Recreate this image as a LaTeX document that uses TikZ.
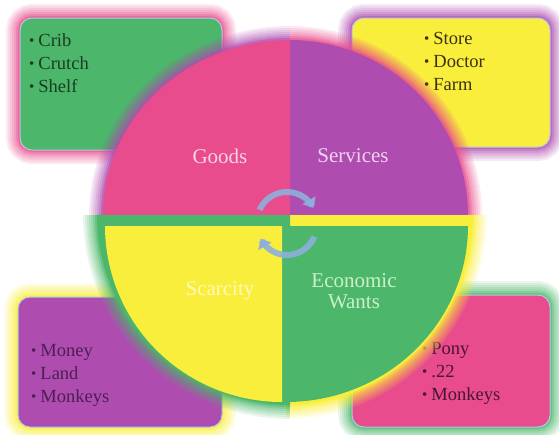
\documentclass[tikz,border=0pt]{standalone}
\usepackage{fontspec}
\setmainfont{Liberation Serif}
\usetikzlibrary{arrows.meta}
\definecolor{cgreen}{HTML}{4CB76A}
\definecolor{cpink}{HTML}{E84C8C}
\definecolor{cpurple}{HTML}{AE4CB0}
\definecolor{cyellow}{HTML}{FAEE3C}
\definecolor{cblue}{HTML}{8CB0DC}
\definecolor{tgreen}{HTML}{1B3B22}
\definecolor{tyellow}{HTML}{3B3010}
\definecolor{tpurple}{HTML}{4B2052}
\definecolor{tpink}{HTML}{4A1432}
\definecolor{lpink}{HTML}{F7D4E4}
\definecolor{lpurple}{HTML}{F2D2EE}
\definecolor{lyellow}{HTML}{FFF8BC}
\definecolor{lgreen}{HTML}{CDEFCB}
\newcommand{\bl}{\raisebox{0.5pt}{\fontsize{15}{15}\selectfont\textbullet}\hspace{4pt}}
\tikzset{
  glowc/.style={
    preaction={draw=#1,line width=28pt,opacity=.12},
    preaction={draw=#1,line width=24pt,opacity=.12},
    preaction={draw=#1,line width=20pt,opacity=.14},
    preaction={draw=#1,line width=16pt,opacity=.16},
    preaction={draw=#1,line width=12pt,opacity=.2},
    preaction={draw=#1,line width=8pt,opacity=.3},
    preaction={draw=#1,line width=4pt,opacity=.5}},
  box/.style={rectangle,rounded corners=12pt,inner sep=0pt,outer sep=0pt,
    draw=cblue!70,line width=1pt},
  list/.style={font=\fontsize{18.5}{23}\selectfont,align=left,inner sep=0pt,anchor=west},
  lab/.style={font=\fontsize{21}{21}\selectfont,inner sep=0pt},
  cyc/.style={draw=cblue,line width=6pt,opacity=.9,-{Triangle[width=15pt,length=9pt]}}
}
\begin{document}
\begin{tikzpicture}[x=1pt,y=-1pt]
\useasboundingbox (0,0) rectangle (559,434);
% boxes
\node[box,fill=cgreen,glowc=cpink,minimum width=202pt,minimum height=132pt] (b1) at (121,84) {};
\node[box,fill=cyellow,glowc=cpurple,minimum width=198pt,minimum height=129pt] (b2) at (451,82.5) {};
\node[box,fill=cpurple,glowc=cyellow,minimum width=204pt,minimum height=130pt] (b3) at (120,362) {};
\node[box,fill=cpink,glowc=cgreen,minimum width=198pt,minimum height=132pt] (b4) at (451,361) {};
\node[list,text=tgreen] (l1) at (29,63) {\bl Crib\\\bl Crutch\\\bl Shelf};
\node[list,text=tyellow] (l2) at (424,61) {\bl Store\\\bl Doctor\\\bl Farm};
\node[list,text=tpurple] (l3) at (31,375) {\bl Money\\\bl Land\\\bl Monkeys};
\node[list,text=tpink] (l4) at (422,373) {\bl Pony\\\bl .22\\\bl Monkeys};
% glows of the circle quarters
\path[glowc=cpurple] plot[domain=180:270,samples=60] ({290+187*cos(\x)},{215+175*sin(\x)});
\path[glowc=cpink] plot[domain=270:360,samples=60] ({290+178*cos(\x)},{215+175*sin(\x)});
\path[glowc=cyellow] plot[domain=0:90,samples=60] ({286+187*cos(\x)},{215+190*sin(\x)});
\path[glowc=cgreen] plot[domain=90:180,samples=60] ({290+193*cos(\x)},{215+190*sin(\x)});
% quarters
\fill[cpink] (290,215) -- plot[domain=180:270,samples=60] ({290+187*cos(\x)},{215+175*sin(\x)}) -- cycle;
\fill[cpurple] (290,215) -- plot[domain=270:360,samples=60] ({290+178*cos(\x)},{215+175*sin(\x)}) -- cycle;
\fill[cyellow] (286,215) -- plot[domain=0:90,samples=60] ({286+187*cos(\x)},{215+190*sin(\x)}) -- cycle;
\fill[cgreen] (286,226) -- plot[domain=0:90,samples=60] ({286+182*cos(\x)},{226+176*sin(\x)}) -- cycle;
\fill[cgreen] (290,215) -- plot[domain=90:180,samples=60] ({290+193*cos(\x)},{215+190*sin(\x)}) -- cycle;
\fill[cyellow] (282,226) -- plot[domain=90:180,samples=60] ({282+177*cos(\x)},{226+176*sin(\x)}) -- cycle;
% labels
\node[lab,text=lpink] (goods) at (220,156) {Goods};
\node[lab,text=lpurple] (serv) at (353,156) {Services};
\node[lab,text=lyellow] (scar) at (220,291) {Scarcity};
\node[lab,text=lgreen,align=center] (ew) at (354,291) {Economic\\Wants};
% cycle arrows
\draw[cyc] plot[domain=204:332,samples=30] ({287+30*cos(\x)},{222+30*sin(\x)});
\draw[cyc] plot[domain=24:152,samples=30] ({287+30*cos(\x)},{224+31*sin(\x)});
\end{tikzpicture}
\end{document}
